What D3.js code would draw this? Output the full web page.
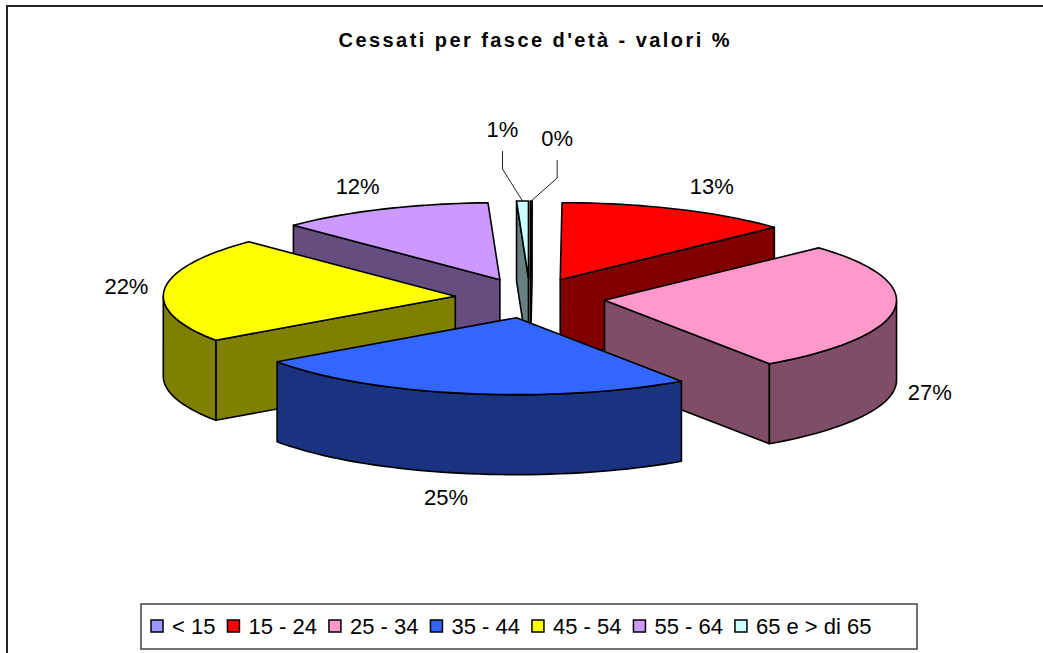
<!DOCTYPE html>
<html>
<head>
<meta charset="utf-8">
<script src="https://cdn.jsdelivr.net/npm/d3@7/dist/d3.min.js"></script>
<style>
html,body{margin:0;padding:0;background:#fff;overflow:hidden}
svg{display:block}
text{font-family:"Liberation Sans",Arial,sans-serif;fill:#000}
</style>
</head>
<body>
<svg id="chart" width="1043" height="653"></svg>
<script>
// ---- data ----
const titleText = "Cessati per fasce d'età - valori %";
const categories = ["< 15", "15 - 24", "25 - 34", "35 - 44", "45 - 54", "55 - 64", "65 e > di 65"];
const shares = [0.1, 13.0, 27.35, 24.85, 22.2, 11.85, 0.65];
const topColors = ["#9999ff", "#ff0000", "#ff99cc", "#3366ff", "#ffff00", "#cc99ff", "#ccffff"];

// ---- layout ----
const W = 1043, H = 653;
const centerX = 530, centerY = 298;
const radiusX = 292, radiusY = 77, depth = 80, explodeX = 75, explodeY = 20;
const labelNudgeX = [26, 34, 35, -18, -38, -25, -20];
const labelNudgeY = [-63, -23, 83, 104, -3, -23, -72];
const fontLabel = 22;

const svg = d3.select("#chart");

// chart frame: only top and left edges fall inside the crop
svg.append("path").attr("d", d3.line()([[W, 6], [7, 6], [7, H]]))
  .attr("fill", "none").attr("stroke", "#222").attr("stroke-width", 2);

svg.append("text").attr("x", 534).attr("y", 47).attr("text-anchor", "middle")
  .attr("font-size", 20).attr("font-weight", "bold")
  .attr("textLength", 391).attr("lengthAdjust", "spacing").text(titleText);

// ---- scales ----
const unitX = d3.scaleLinear().domain([-1, 1]).range([-radiusX, radiusX]);
const unitY = d3.scaleLinear().domain([-1, 1]).range([-radiusY, radiusY]);
const offX = d3.scaleLinear().domain([-1, 1]).range([centerX - explodeX, centerX + explodeX]);
const offY = d3.scaleLinear().domain([-1, 1]).range([centerY - explodeY, centerY + explodeY]);

const pie = d3.pie().sort(null).value(d => d)(shares);
const slices = pie.map((p, i) => {
  const mid = (p.startAngle + p.endAngle) / 2;
  return {
    i, a0: p.startAngle, a1: p.endAngle, mid,
    cx: offX(Math.sin(mid)), cy: offY(-Math.cos(mid)),
    color: topColors[i], side: d3.color(topColors[i]).darker(0)
  };
});
const halve = c => { const r = d3.rgb(c); return d3.rgb(r.r / 2, r.g / 2, r.b / 2).formatHex(); };
const rim = (s, a, dz = 0) => [s.cx + unitX(Math.sin(a)), s.cy + unitY(-Math.cos(a)) + dz];
const arcPts = (s, a0, a1, dz = 0) => {
  const n = Math.max(1, Math.ceil((a1 - a0) / (Math.PI / 90)));
  return d3.range(n + 1).map(k => rim(s, a0 + (a1 - a0) * k / n, dz));
};
const line = d3.line().curve(d3.curveLinear);
const poly = pts => line(pts) + "Z";
const faceStyle = sel => sel.attr("stroke", "#000").attr("stroke-width", 1.6).attr("stroke-linejoin", "round");

// back to front
const order = slices.slice().sort((a, b) => d3.descending(Math.cos(a.mid), Math.cos(b.mid)));
order.forEach(s => {
  const g = svg.append("g");
  const dark = halve(s.color);
  const hub = [s.cx, s.cy], hubLow = [s.cx, s.cy + depth];
  // start wall is visible on the left half, end wall on the right half
  if (Math.sin(s.a0) < 0) {
    g.append("path").attr("d", poly([hub, rim(s, s.a0), rim(s, s.a0, depth), hubLow]))
      .attr("fill", dark).call(faceStyle);
  }
  if (Math.sin(s.a1) > 0) {
    g.append("path").attr("d", poly([hub, rim(s, s.a1), rim(s, s.a1, depth), hubLow]))
      .attr("fill", dark).call(faceStyle);
  }
  const lo = Math.max(s.a0, Math.PI / 2), hi = Math.min(s.a1, 3 * Math.PI / 2);
  if (hi > lo) {
    g.append("path").attr("d", poly(arcPts(s, lo, hi).concat(arcPts(s, lo, hi, depth).reverse())))
      .attr("fill", dark).call(faceStyle);
  }
  g.append("path").attr("d", poly([hub].concat(arcPts(s, s.a0, s.a1))))
    .attr("fill", s.color).call(faceStyle);
});

// ---- value labels ----
slices.forEach(s => {
  const p = rim(s, s.mid);
  const lx = p[0] + labelNudgeX[s.i], ly = p[1] + labelNudgeY[s.i];
  svg.append("text").attr("x", lx).attr("y", ly + 8).attr("text-anchor", "middle")
    .attr("font-size", fontLabel).text(Math.round(shares[s.i]) + "%");
  if (shares[s.i] < 1) {
    const end = rim(s, s.mid);
    const startY = ly + 22;
    svg.append("path").attr("d", line([[lx, startY], [lx, startY + 18], end]))
      .attr("fill", "none").attr("stroke", "#222").attr("stroke-width", 1);
  }
});

// ---- legend ----
const legendX = 141, legendY = 604, legendW = 776, legendH = 45;
svg.append("rect").attr("x", legendX).attr("y", legendY).attr("width", legendW).attr("height", legendH)
  .attr("fill", "#fff").attr("stroke", "#444").attr("stroke-width", 1.5);
let cursor = 151;
categories.forEach((c, i) => {
  svg.append("rect").attr("x", cursor).attr("y", 620).attr("width", 12).attr("height", 12)
    .attr("fill", topColors[i]).attr("stroke", "#000").attr("stroke-width", 1.5);
  const t = svg.append("text").attr("x", cursor + 21).attr("y", 634)
    .attr("font-size", fontLabel).text(c);
  cursor += 21 + t.node().getComputedTextLength() + 12;
});
</script>
</body>
</html>
